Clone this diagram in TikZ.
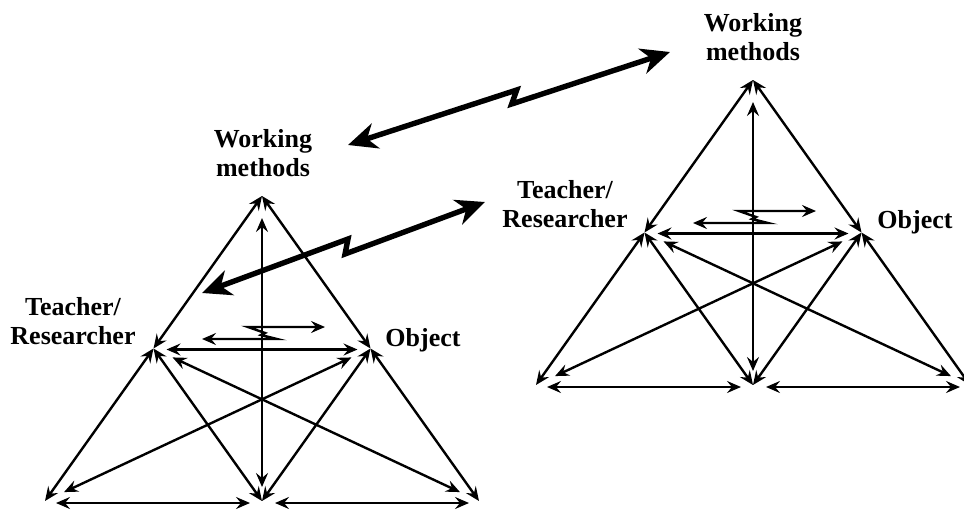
\documentclass[tikz,border=0pt]{standalone}
\usepackage{fontspec}
\setmainfont{Liberation Serif}
\usetikzlibrary{arrows.meta}
\tikzset{
  rel/.style={line width=2.4pt, {Stealth[length=14pt,width=12pt,inset=5pt]}-{Stealth[length=14pt,width=12pt,inset=5pt]}},
  bigarrow/.style={line width=5.4pt, line join=miter, {Stealth[length=29pt,width=26pt,inset=9pt]}-{Stealth[length=29pt,width=26pt,inset=9pt]}},
  lbl/.style={font=\bfseries\fontsize{26}{29}\selectfont, align=center, inner sep=0pt}
}
\newcommand\mytriad[3]{%
  \begin{scope}[shift={(#2,#3)}]
    \coordinate (#1W) at (0,0);
    \coordinate (#1T) at (-108.5,152.5);
    \coordinate (#1O) at (108.5,152.5);
    \coordinate (#1BL) at (-217,305);
    \coordinate (#1BM) at (0,305);
    \coordinate (#1BR) at (217,305);
    \draw[rel] (#1W) -- (#1T);
    \draw[rel] (#1W) -- (#1O);
    \draw[rel] (#1T) -- (#1BL);
    \draw[rel] (#1T) -- (#1BM);
    \draw[rel] (#1O) -- (#1BM);
    \draw[rel] (#1O) -- (#1BR);
    \draw[rel, shorten <=13pt, shorten >=13pt] ([yshift=-1pt]#1T) -- ([yshift=-1pt]#1O);
    \draw[rel, shorten <=21pt, shorten >=21pt] (#1T) -- (#1BR);
    \draw[rel, shorten <=21pt, shorten >=21pt] (#1O) -- (#1BL);
    \draw[rel, shorten <=22pt, shorten >=14pt] (#1W) -- (#1BM);
    \draw[rel, shorten <=11pt, shorten >=12pt] ([yshift=-2pt]#1BL) -- ([yshift=-2pt]#1BM);
    \draw[rel, shorten <=13pt, shorten >=10pt] ([yshift=-2pt]#1BM) -- ([yshift=-2pt]#1BR);
    \coordinate (#1Za) at (-60,143);
    \coordinate (#1Zb) at (63,131);
    \draw[rel, line join=miter] (#1Za) -- (15,143) -- (-1,139) -- (3,137) -- (-14,131) -- (#1Zb);
  \end{scope}}
\begin{document}
\begin{tikzpicture}[x=1pt,y=-1pt]
  \useasboundingbox (0,0) rectangle (964,511);
  \mytriad{L}{262}{196}
  \mytriad{R}{753}{80}
  \node[lbl] (lw) at (263,153) {Working\\methods};
  \node[lbl] (lt) at (73,321) {Teacher/\\Researcher};
  \node[lbl] (lo) at (423,340) {Object};
  \node[lbl] (rw) at (753,37) {Working\\methods};
  \node[lbl] (rt) at (565,204) {Teacher/\\Researcher};
  \node[lbl] (ro) at (915,222) {Object};
  \coordinate (ua) at (348,145);
  \coordinate (ub) at (670,52);
  \coordinate (la) at (202,293);
  \coordinate (lb) at (485,202);
  \draw[bigarrow] (ua) -- (516.7,90) -- (511.7,104) -- (ub);
  \draw[bigarrow] (la) -- (348,239) -- (345,254) -- (lb);
\end{tikzpicture}
\end{document}
